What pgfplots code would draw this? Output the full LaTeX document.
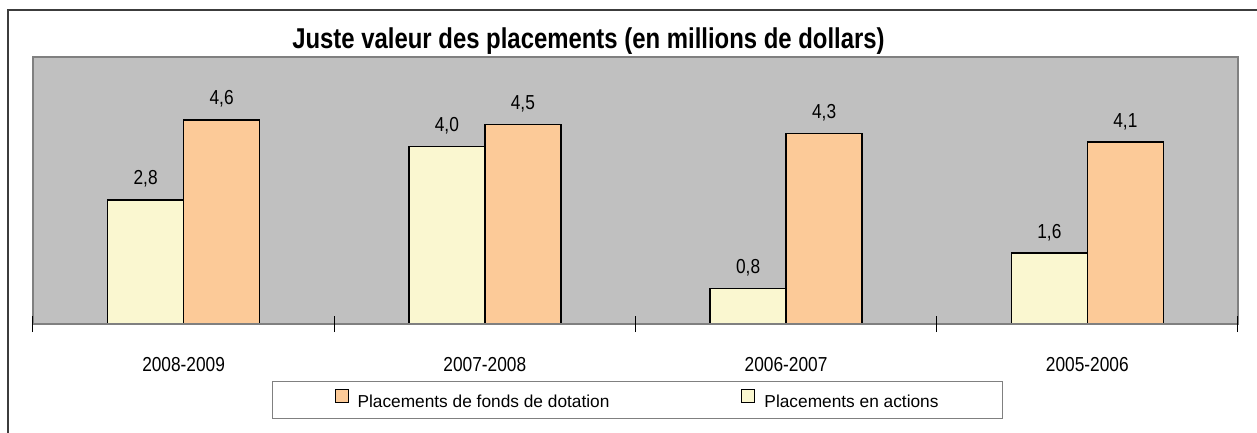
\documentclass[border=0pt]{standalone}
\usepackage{pgfplots}
\pgfplotsset{compat=1.18}
\usepackage{graphicx}
\usepackage{fontspec}
\setmainfont{Liberation Sans}
\definecolor{bggray}{RGB}{192,192,192}
\definecolor{bordergray}{RGB}{128,128,128}
\definecolor{paleyellow}{RGB}{250,247,208}
\definecolor{paleorange}{RGB}{252,202,152}
\definecolor{framegray}{RGB}{60,60,60}
\newcommand{\vs}[1]{\scalebox{1}[1.17]{#1}}
\newcommand{\lbl}{\fontsize{17.3}{20}\selectfont}

\begin{document}
\begin{tikzpicture}
\path[use as bounding box] (-33pt,-108pt) rectangle (1224pt,324pt);
% outer frame (only left and top edges are in view)
\draw[framegray, line width=1.6pt] (-25pt,-110pt) -- (-25pt,314pt) -- (1226pt,314pt);
\begin{axis}[
  scale only axis, width=1205pt, height=267pt,
  xmin=-0.5, xmax=3.5, ymin=0, ymax=6.02,
  enlargelimits=false, clip=false, axis on top,
  axis background/.style={fill=bggray},
  axis line style={draw=bordergray, line width=1.2pt},
  ybar, bar width=76pt,
  ytick=\empty,
  xtick={0,1,2,3},
  xticklabels={\vs{2008-2009},\vs{2007-2008},\vs{2006-2007},\vs{2005-2006}},
  major tick length=0pt,
  xtick pos=bottom,
  extra x ticks={-0.5,0.5,1.5,2.5,3.5},
  extra x tick labels={},
  extra x tick style={major tick length=16pt, xtick align=center,
    major tick style={black, line width=1pt}},
  xticklabel style={font=\lbl, anchor=base, yshift=-47pt},
  nodes near coords={\vs{\pgfmathprintnumber[assume math mode=true, use comma, fixed, fixed zerofill, precision=1]{\pgfplotspointmeta}}},
  every node near coord/.append style={font=\lbl, anchor=base, yshift=15pt, black},
  legend columns=2,
  legend style={at={(0.5017,-0.2846)}, anchor=center, draw=bordergray, line width=1.2pt,
    font=\lbl, inner xsep=62pt, inner ysep=7pt,
    /tikz/every odd column/.append style={column sep=7pt},
    /tikz/every even column/.append style={column sep=130pt}},
  legend image code/.code={\draw[#1, draw=black, line width=1pt] (0pt,0.3pt) rectangle (13pt,13.3pt);},
]
\addplot[fill=paleorange, draw=black, line width=1.4pt, bar shift=38pt]
  coordinates {(0,4.6) (1,4.5) (2,4.3) (3,4.1)};
\addplot[fill=paleyellow, draw=black, line width=1.4pt, bar shift=-38pt]
  coordinates {(0,2.8) (1,4.0) (2,0.8) (3,1.6)};
\legend{Placements de fonds de dotation, Placements en actions}
\draw[black, line width=1.2pt] (rel axis cs:0,0) -- (rel axis cs:1,0);
\end{axis}
\node[font=\bfseries\fontsize{23.9}{28}\selectfont, anchor=base] at (555.5pt,276pt)
  {\scalebox{1}[1.2]{Juste valeur des placements (en millions de dollars)}};
\end{tikzpicture}
\end{document}
